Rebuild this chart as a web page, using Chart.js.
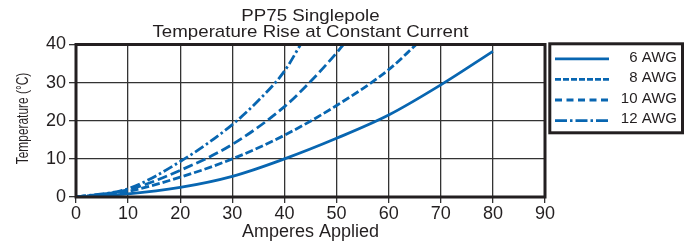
<!DOCTYPE html>
<html>
<head>
<meta charset="utf-8">
<script src="https://cdn.jsdelivr.net/npm/chart.js@4.4.1/dist/chart.umd.min.js"></script>
<style>
  html, body { margin: 0; padding: 0; background: #fff; }
  canvas { display: block; }
</style>
</head>
<body>
<canvas id="chart" width="691" height="245"></canvas>
<script>
// PP75 Singlepole - temperature rise vs current
const titleLines = ["PP75 Singlepole", "Temperature Rise at Constant Current"];
const xTitle = "Amperes Applied";
const yTitle = "Temperature (°C)";
const xTicks = [0, 10, 20, 30, 40, 50, 60, 70, 80, 90];
const yTicks = [0, 10, 20, 30, 40];
const seriesNames = ["6 AWG", "8 AWG", "10 AWG", "12 AWG"];

const amps6 = [0, 10, 20, 30, 40, 50, 60, 70, 80];
const rise6 = [0, 0.8, 2.5, 5.4, 10, 15.4, 21.5, 29.4, 38.2];
const amps8 = [0, 10, 20, 30, 40, 50, 60, 65.3];
const rise8 = [0, 1.5, 5.2, 10, 16.2, 24, 33.4, 40];
const amps10 = [0, 10, 20, 30, 40, 45, 50, 51.3];
const rise10 = [0, 1.9, 7, 13.8, 23.7, 30.3, 37.8, 40];
const amps12 = [0, 10, 20, 30, 35, 40, 43.1];
const rise12 = [0, 2.2, 9.3, 19, 25.3, 33, 40];

const BLUE = "#0866b1";
const INK = "#231f20";
const FONT = "'Liberation Sans', Arial, Helvetica, sans-serif";

// dash styles: curve on the plot / sample in the legend box
const plotDash = [[], [8, 3], [10, 4], [10, 3, 2.5, 3]];
const legendDash = [[], [6, 2], [7, 4.5], [12, 3, 2.5, 3]];

const pairs = (xs, ys) => xs.map((x, i) => ({ x, y: ys[i] }));
const seriesData = [pairs(amps6, rise6), pairs(amps8, rise8), pairs(amps10, rise10), pairs(amps12, rise12)];

const datasets = seriesNames.map((name, i) => ({
  label: name,
  data: seriesData[i],
  borderColor: BLUE,
  borderWidth: 2.8,
  borderDash: plotDash[i],
  pointRadius: 0,
  fill: false,
  cubicInterpolationMode: "monotone"
}));

const decor = {
  id: "decor",
  afterDatasetsDraw(chart) {
    const { ctx, chartArea: a } = chart;
    ctx.save();
    ctx.strokeStyle = INK;
    ctx.lineWidth = 3;
    ctx.strokeRect(a.left, a.top, a.right - a.left, a.bottom - a.top);
    ctx.restore();
  },
  afterDraw(chart) {
    const { ctx, chartArea: a } = chart;
    ctx.save();
    ctx.fillStyle = INK;

    // two-line title, centred over the plot
    ctx.font = "17px " + FONT;
    ctx.textAlign = "center";
    ctx.textBaseline = "alphabetic";
    const cx = (a.left + a.right) / 2;
    titleLines.forEach((t, i) => {
      ctx.save();
      ctx.translate(cx, 20.7 + i * 16);
      ctx.scale(1.1, 1);
      ctx.fillText(t, 0, 0);
      ctx.restore();
    });

    // condensed rotated y title
    ctx.save();
    ctx.translate(28, 118.5);
    ctx.rotate(-Math.PI / 2);
    ctx.scale(0.7, 1);
    ctx.font = "17px " + FONT;
    ctx.fillText(yTitle, 0, 0);
    ctx.restore();

    // legend box on the right
    ctx.strokeStyle = INK;
    ctx.lineWidth = 3;
    ctx.strokeRect(549.8, 43.8, 132.7, 89);
    ctx.font = "15px " + FONT;
    ctx.textAlign = "right";
    chart.data.datasets.forEach((ds, i) => {
      const base = 61.6 + i * 20.6;
      ctx.strokeStyle = ds.borderColor;
      ctx.lineWidth = 2.8;
      ctx.setLineDash(legendDash[i]);
      ctx.beginPath();
      ctx.moveTo(555, base - 2.8);
      ctx.lineTo(609, base - 2.8);
      ctx.stroke();
      ctx.setLineDash([]);
      ctx.fillText(ds.label, 677, base);
    });
    ctx.restore();
  }
};

new Chart(document.getElementById("chart"), {
  type: "line",
  data: { datasets },
  options: {
    responsive: false,
    animation: false,
    devicePixelRatio: 1,
    layout: { padding: { top: 44.5, right: 146, left: 0, bottom: 0 } },
    plugins: {
      legend: { display: false },
      title: { display: false },
      tooltip: { enabled: false }
    },
    scales: {
      x: {
        type: "linear",
        min: xTicks[0],
        max: xTicks[xTicks.length - 1],
        afterBuildTicks: s => { s.ticks = xTicks.map(v => ({ value: v })); },
        afterFit: s => { s.height = 48; },
        border: { display: false },
        grid: { color: "#333", lineWidth: 1.3, tickLength: 6 },
        ticks: { color: INK, padding: 0, font: { family: FONT, size: 18 } },
        title: {
          display: true,
          text: xTitle,
          color: INK,
          font: { family: FONT, size: 18 },
          padding: { top: 0, bottom: 2 }
        }
      },
      y: {
        min: yTicks[0],
        max: yTicks[yTicks.length - 1],
        afterBuildTicks: s => { s.ticks = yTicks.map(v => ({ value: v })); },
        afterFit: s => { s.width = 76; },
        border: { display: false },
        grid: { color: "#333", lineWidth: 1.3, tickLength: 7 },
        ticks: { color: INK, padding: 3, font: { family: FONT, size: 18 } }
      }
    }
  },
  plugins: [decor]
});
</script>
</body>
</html>
